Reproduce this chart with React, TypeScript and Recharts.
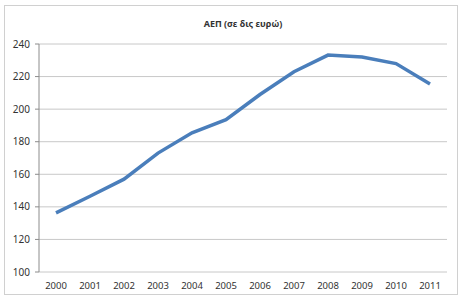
import { LineChart, Line, XAxis, YAxis, CartesianGrid } from 'recharts';

const years = ['2000', '2001', '2002', '2003', '2004', '2005', '2006', '2007', '2008', '2009', '2010', '2011'];
const gdp = [136.3, 146.5, 157, 173, 185.5, 193.5, 209, 223, 233.2, 232, 228, 215.5];
const yTicks = [100, 120, 140, 160, 180, 200, 220, 240];
const boundaryTicks = [0, 1, 2, 3, 4, 5, 6, 7, 8, 9, 10, 11, 12];

const data = years.map((year, i) => ({ year, gdp: gdp[i] }));

const FONT = '"Noto Sans", "DejaVu Sans", sans-serif';

export default function App() {
  return (
    <div style={{ position: 'absolute', left: 0, top: 0, width: 460, height: 297, background: '#fff', fontFamily: FONT }}>
      <div
        style={{
          position: 'absolute',
          left: 4,
          top: 5,
          width: 452,
          height: 288,
          border: '1px solid #d0d0d0',
        }}
      />
      <div
        style={{
          position: 'absolute',
          top: 17,
          left: 0,
          width: 486,
          textAlign: 'center',
          fontSize: 9,
          fontWeight: 700,
          color: '#333',
        }}
      >
        ΑΕΠ (σε δις ευρώ)
      </div>
      <div style={{ position: 'absolute', left: 0, top: 0 }}>
        <LineChart width={460} height={297} data={data} margin={{ top: 44, right: 13, bottom: 0, left: 0 }}>
          <CartesianGrid vertical={false} stroke="#c8c8c8" />
          <XAxis
            xAxisId="t"
            type="number"
            dataKey={() => 0}
            domain={[0, 12]}
            ticks={boundaryTicks}
            tickFormatter={() => ''}
            height={0}
            stroke="#8c8c8c"
            tickSize={4}
          />
          <XAxis
            dataKey="year"
            height={25}
            padding={{ left: 17, right: 17 }}
            axisLine={false}
            tickLine={false}
            tickSize={0}
            tickMargin={10}
            tick={{ fontSize: 9.5, fill: '#333', fontFamily: FONT }}
            interval={0}
          />
          <YAxis
            width={39}
            domain={[100, 240]}
            ticks={yTicks}
            interval={0}
            stroke="#8c8c8c"
            tickSize={4}
            tickMargin={5}
            tick={{ fontSize: 10, fill: '#333', fontFamily: FONT }}
          />
          <Line
            type="linear"
            dataKey="gdp"
            stroke="#4a7ebb"
            strokeWidth={3.5}
            dot={false}
            isAnimationActive={false}
          />
        </LineChart>
      </div>
    </div>
  );
}
